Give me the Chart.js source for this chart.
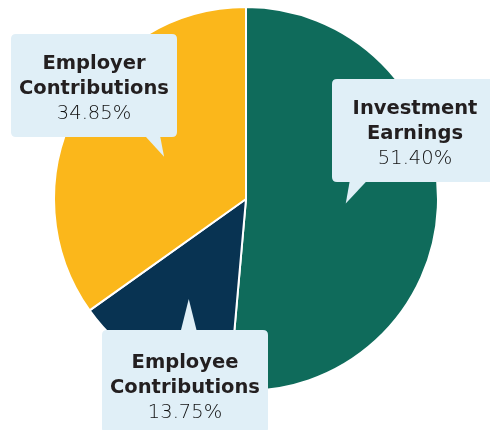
<!DOCTYPE html>
<html>
<head>
<meta charset="utf-8">
<script src="https://cdn.jsdelivr.net/npm/chart.js@4/dist/chart.umd.min.js"></script>
<style>
  html, body { margin: 0; padding: 0; background: #fff; }
  #wrap { width: 490px; height: 430px; position: relative; }
</style>
</head>
<body>
<div id="wrap"><canvas id="pieChart"></canvas></div>
<script>
// slices, clockwise from 12 o'clock
var categories = ['Investment Earnings', 'Employee Contributions', 'Employer Contributions'];
var shares = [51.40, 13.75, 34.85];
var labelLines = [['Investment', 'Earnings'], ['Employee', 'Contributions'], ['Employer', 'Contributions']];
var sliceColors = ['#0f6b5b', '#083352', '#fbb71b'];

// callout boxes (label placement only)
var callouts = [
  { box: [332, 79, 166, 103], tipR: 0.52, base: [4, 21], edge: 'bottom', firstLine: 35 },
  { box: [102, 330, 166, 103], tipR: 0.60, base: [-8, 8], edge: 'top', firstLine: 38 },
  { box: [11, 34, 166, 103], tipR: 0.48, base: [-19, -4], edge: 'bottom', firstLine: 35 }
];

function roundRect(ctx, x, y, w, h, r) {
  ctx.beginPath();
  ctx.moveTo(x + r, y);
  ctx.lineTo(x + w - r, y);
  ctx.quadraticCurveTo(x + w, y, x + w, y + r);
  ctx.lineTo(x + w, y + h - r);
  ctx.quadraticCurveTo(x + w, y + h, x + w - r, y + h);
  ctx.lineTo(x + r, y + h);
  ctx.quadraticCurveTo(x, y + h, x, y + h - r);
  ctx.lineTo(x, y + r);
  ctx.quadraticCurveTo(x, y, x + r, y);
  ctx.closePath();
}

var calloutPlugin = {
  id: 'callouts',
  afterDraw: function(chart) {
    var ctx = chart.ctx;
    var arcs = chart.getDatasetMeta(0).data;
    ctx.save();
    arcs.forEach(function(arc, i) {
      var c = callouts[i];
      var p = arc.getProps(['x', 'y', 'startAngle', 'endAngle', 'outerRadius'], true);
      var mid = (p.startAngle + p.endAngle) / 2;
      var tx = p.x + Math.cos(mid) * p.outerRadius * c.tipR;
      var ty = p.y + Math.sin(mid) * p.outerRadius * c.tipR;
      var bx = c.box[0], by = c.box[1], bw = c.box[2], bh = c.box[3];
      var ey = c.edge === 'bottom' ? by + bh - 1 : by + 1;

      ctx.fillStyle = '#e0eff7';
      roundRect(ctx, bx, by, bw, bh, 5);
      ctx.fill();
      // pointer
      ctx.beginPath();
      ctx.moveTo(tx + c.base[0], ey);
      ctx.lineTo(tx, ty);
      ctx.lineTo(tx + c.base[1], ey);
      ctx.closePath();
      ctx.fill();

      // text
      var cx = bx + bw / 2;
      var y0 = by + c.firstLine;
      ctx.textAlign = 'center';
      ctx.textBaseline = 'alphabetic';
      ctx.fillStyle = '#231f20';
      ctx.font = 'bold 19.5px "DejaVu Sans", sans-serif';
      labelLines[i].forEach(function(line, k) {
        ctx.fillText(line, cx, y0 + k * 25);
      });
      ctx.fillStyle = '#111111';
      ctx.font = '200 19.5px "DejaVu Sans", sans-serif';
      ctx.fillText(shares[i].toFixed(2) + '%', cx, y0 + 50);
    });
    ctx.restore();
  }
};

var chart = new Chart(document.getElementById('pieChart'), {
  type: 'pie',
  data: {
    labels: categories,
    datasets: [{
      data: shares,
      backgroundColor: sliceColors,
      borderColor: '#ffffff',
      borderWidth: 2
    }]
  },
  options: {
    responsive: true,
    maintainAspectRatio: false,
    animation: false,
    layout: { padding: { top: 6, bottom: 38, left: 2, right: 0 } },
    plugins: {
      legend: { display: false },
      tooltip: { enabled: false }
    }
  },
  plugins: [calloutPlugin]
});
</script>
</body>
</html>
